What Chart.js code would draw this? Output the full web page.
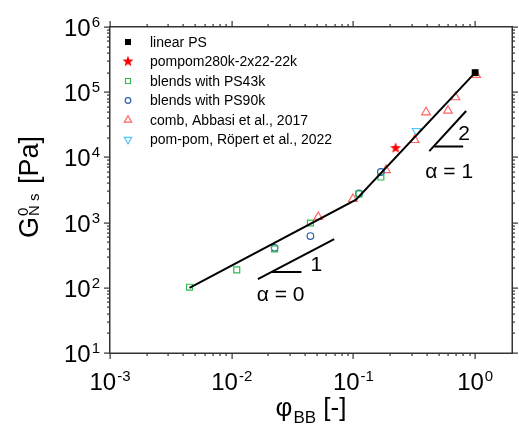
<!DOCTYPE html>
<html>
<head>
<meta charset="utf-8">
<script src="https://cdn.jsdelivr.net/npm/chart.js@4.4.1/dist/chart.umd.min.js"></script>
<style>
html, body { margin: 0; padding: 0; background: #fff; }
#wrap { width: 519px; height: 424px; }
</style>
</head>
<body>
<div id="wrap"><canvas id="chart" width="519" height="424"></canvas></div>
<script>
// ── Data ─────────────────────────────────────────────────
const legendLabels = [
    'linear PS',
    'pompom280k-2x22-22k',
    'blends with PS43k',
    'blends with PS90k',
    'comb, Abbasi et al., 2017',
    'pom-pom, Röpert et al., 2022'
];

const phiLinear = [1.0];
const gLinear = [2.0e5];

const phiPompom = [0.222];
const gPompom = [1.39e4];

const phiPS43k = [0.0045, 0.011, 0.0225, 0.0443, 0.111, 0.168];
const gPS43k = [102, 188, 394, 986, 2750, 5000];

const phiPS90k = [0.0225, 0.0443, 0.111, 0.168];
const gPS90k = [410, 622, 2800, 5970];

const phiComb = [0.0514, 0.099, 0.185, 0.318, 0.395, 0.598, 0.690, 1.02];
const gComb = [1220, 2300, 6400, 18500, 49200, 52000, 83600, 184000];

const phiRopert = [0.33];
const gRopert = [25400];

// fit line (slope 1 then slope 2)
const phiFit = [0.0045, 0.105, 1.0];
const gFit = [100, 2250, 2.0e5];

// slope triangles
const phiSlope1 = [0.0164, 0.0695];
const gSlope1 = [136, 560];
const phiFlat1 = [0.0213, 0.0374];
const gFlat1 = [175, 175];
const phiSlope2 = [0.42, 0.843];
const gSlope2 = [12500, 51500];
const phiFlat2 = [0.462, 0.797];
const gFlat2 = [14700, 14700];

// tick label exponents
const xDecades = ['-3', '-2', '-1', '0'];
const yDecades = ['1', '2', '3', '4', '5', '6'];

// text annotations (data coords)
const notes = [
    { text: 'α = 0', x: 0.0252, y: 63, align: 'center' },
    { text: '1', x: 0.0443, y: 181, align: 'left' },
    { text: '2', x: 0.726, y: 18500, align: 'left' },
    { text: 'α = 1', x: 0.612, y: 4830, align: 'center' }
];

const FONT = '"Liberation Sans", Arial, sans-serif';
const AXIS = '#333';
const pts = (xs, ys) => xs.map((x, i) => ({ x: x, y: ys[i] }));

// filled star marker (Chart.js 'star' is only an asterisk)
function makeStar(color, outer, inner) {
    const c = document.createElement('canvas');
    const s = Math.ceil(outer * 2 + 2);
    c.width = s; c.height = s;
    const g = c.getContext('2d');
    g.fillStyle = color;
    g.beginPath();
    for (let i = 0; i < 10; i++) {
        const r = i % 2 === 0 ? outer : inner;
        const a = -Math.PI / 2 + i * Math.PI / 5;
        const px = s / 2 + r * Math.cos(a);
        const py = s / 2 + r * Math.sin(a);
        if (i === 0) g.moveTo(px, py); else g.lineTo(px, py);
    }
    g.closePath();
    g.fill();
    return c;
}
const starImg = makeStar('#ff0000', 5.8, 2.4);

function markerSet(label, data, style, color, fill, radius, rotation) {
    return {
        label: label,
        data: data,
        pointStyle: style,
        pointRadius: radius,
        pointRotation: rotation || 0,
        pointBorderColor: color,
        pointBackgroundColor: fill,
        pointBorderWidth: 1.2,
        borderColor: color,
        backgroundColor: fill,
        showLine: false,
        order: 1
    };
}

function lineSet(data) {
    return {
        label: '',
        data: data,
        showLine: true,
        pointRadius: 0,
        borderColor: '#000',
        borderWidth: 2,
        fill: false,
        order: 0
    };
}

const datasets = [
    markerSet(legendLabels[0], pts(phiLinear, gLinear), 'rect', '#000', '#000', 4),
    markerSet(legendLabels[1], pts(phiPompom, gPompom), starImg, '#ff0000', '#ff0000', 6),
    markerSet(legendLabels[2], pts(phiPS43k, gPS43k), 'rect', '#2fb94f', 'rgba(0,0,0,0)', 4.2),
    markerSet(legendLabels[3], pts(phiPS90k, gPS90k), 'circle', '#2b5ea8', 'rgba(0,0,0,0)', 3.3),
    markerSet(legendLabels[4], pts(phiComb, gComb), 'triangle', '#ff6464', 'rgba(0,0,0,0)', 5),
    markerSet(legendLabels[5], pts(phiRopert, gRopert), 'triangle', '#4fc4ff', 'rgba(0,0,0,0)', 5, 180),
    lineSet(pts(phiFit, gFit)),
    lineSet(pts(phiSlope1, gSlope1)),
    lineSet(pts(phiFlat1, gFlat1)),
    lineSet(pts(phiSlope2, gSlope2)),
    lineSet(pts(phiFlat2, gFlat2))
];

// ── Helpers for axis text ─────────────────
function drawPow(ctx, exp, x, baseY, mode) {
    ctx.font = '24px ' + FONT;
    const wb = ctx.measureText('10').width;
    ctx.font = '15px ' + FONT;
    const we = ctx.measureText(exp).width;
    const total = wb + 1 + we;
    const left = mode === 'center' ? x - total / 2 : x - total;
    ctx.textAlign = 'left';
    ctx.textBaseline = 'alphabetic';
    ctx.font = '24px ' + FONT;
    ctx.fillText('10', left, baseY);
    ctx.font = '15px ' + FONT;
    ctx.fillText(exp, left + wb + 1, baseY - 9);
}

const framePlugin = {
    id: 'frame',
    beforeDraw(chart) {
        const ctx = chart.ctx;
        ctx.save();
        ctx.fillStyle = '#fff';
        ctx.fillRect(0, 0, chart.width, chart.height);
        ctx.restore();
    },
    afterDraw(chart) {
        const ctx = chart.ctx;
        const a = chart.chartArea;
        const xs = chart.scales.x;
        const ys = chart.scales.y;
        const L = Math.round(a.left), R = Math.round(a.right);
        const T = Math.round(a.top), B = Math.round(a.bottom);
        ctx.save();

        // frame (filled rects so it stays crisp)
        ctx.fillStyle = AXIS;
        ctx.fillRect(L - 1, T - 1, R - L + 2, 1.5);
        ctx.fillRect(L - 1, B - 0.5, R - L + 2, 1.5);
        ctx.fillRect(L - 1, T - 1, 1.5, B - T + 2);
        ctx.fillRect(R - 0.5, T - 1, 1.5, B - T + 2);

        // ticks, outward on all four sides
        for (let d = -3; d <= 0; d++) {
            for (let m = 1; m <= 9; m++) {
                const v = m * Math.pow(10, d);
                if (v >= xs.max) break;
                const px = Math.round(xs.getPixelForValue(v));
                const len = m === 1 ? 6 : 3;
                ctx.fillRect(px - 0.5, B, 1.2, len);
                ctx.fillRect(px - 0.5, T - len, 1.2, len);
            }
        }
        for (let d = 1; d <= 6; d++) {
            for (let m = 1; m <= 9; m++) {
                const v = m * Math.pow(10, d);
                if (v > ys.max) break;
                const py = Math.round(ys.getPixelForValue(v));
                const len = m === 1 ? 6 : 3;
                ctx.fillRect(L - len, py - 0.5, len, 1.2);
                ctx.fillRect(R, py - 0.5, len, 1.2);
            }
        }

        // tick labels
        ctx.fillStyle = '#000';
        xDecades.forEach((e) => {
            const px = xs.getPixelForValue(Math.pow(10, Number(e)));
            drawPow(ctx, e, px, B + 37, 'center');
        });
        yDecades.forEach((e) => {
            const py = ys.getPixelForValue(Math.pow(10, Number(e)));
            drawPow(ctx, e, L - 10, py + 9, 'right');
        });

        // x title: φBB [-]
        ctx.textAlign = 'left';
        ctx.textBaseline = 'alphabetic';
        ctx.font = '26px ' + FONT;
        const wPhi = ctx.measureText('φ').width;
        const wBr = ctx.measureText(' [-]').width;
        ctx.font = '17px ' + FONT;
        const wBB = ctx.measureText('BB').width;
        const tx = (L + R) / 2 - (wPhi + 1 + wBB + wBr) / 2;
        ctx.font = '26px ' + FONT;
        ctx.fillText('φ', tx, 416);
        ctx.font = '17px ' + FONT;
        ctx.fillText('BB', tx + wPhi + 1, 423);
        ctx.font = '26px ' + FONT;
        ctx.fillText(' [-]', tx + wPhi + 1 + wBB, 416);

        // y title: G0 N s [Pa]
        ctx.save();
        ctx.translate(38, 238);
        ctx.rotate(-Math.PI / 2);
        ctx.font = '27px ' + FONT;
        const wG = ctx.measureText('G').width;
        ctx.fillText('G', 0, 0);
        ctx.font = '15px ' + FONT;
        ctx.fillText('0', wG + 1, -10);
        ctx.fillText('N s', wG + 1, 1);
        const wNs = ctx.measureText('N s').width;
        ctx.font = '27px ' + FONT;
        ctx.fillText(' [Pa]', wG + 1 + wNs + 2, 0);
        ctx.restore();

        // slope annotations
        ctx.font = '21px ' + FONT;
        notes.forEach((n) => {
            ctx.textAlign = n.align;
            ctx.fillText(n.text, xs.getPixelForValue(n.x), ys.getPixelForValue(n.y));
        });

        // legend inside plot
        ctx.textAlign = 'left';
        ctx.textBaseline = 'middle';
        ctx.font = '14px ' + FONT;
        legendLabels.forEach((lab, i) => {
            const ds = chart.data.datasets[i];
            const y = T + 15 + i * 19.5;
            ctx.fillStyle = ds.pointBackgroundColor;
            ctx.strokeStyle = ds.pointBorderColor;
            ctx.lineWidth = ds.pointBorderWidth;
            Chart.helpers.drawPoint(ctx, {
                pointStyle: ds.pointStyle,
                rotation: ds.pointRotation,
                radius: ds.pointRadius * 0.85,
                borderWidth: ds.pointBorderWidth
            }, L + 18, y);
            ctx.fillStyle = '#000';
            ctx.fillText(lab, L + 40, y + 1);
        });
        ctx.restore();
    }
};

new Chart(document.getElementById('chart').getContext('2d'), {
    type: 'scatter',
    data: { datasets: datasets },
    options: {
        responsive: false,
        animation: false,
        events: [],
        layout: { padding: { left: 110, top: 27, right: 5, bottom: 71 } },
        scales: {
            x: { type: 'logarithmic', min: 0.001, max: 2, display: false },
            y: { type: 'logarithmic', min: 10, max: 1e6, display: false }
        },
        plugins: {
            legend: { display: false },
            tooltip: { enabled: false }
        }
    },
    plugins: [framePlugin]
});
</script>
</body>
</html>
